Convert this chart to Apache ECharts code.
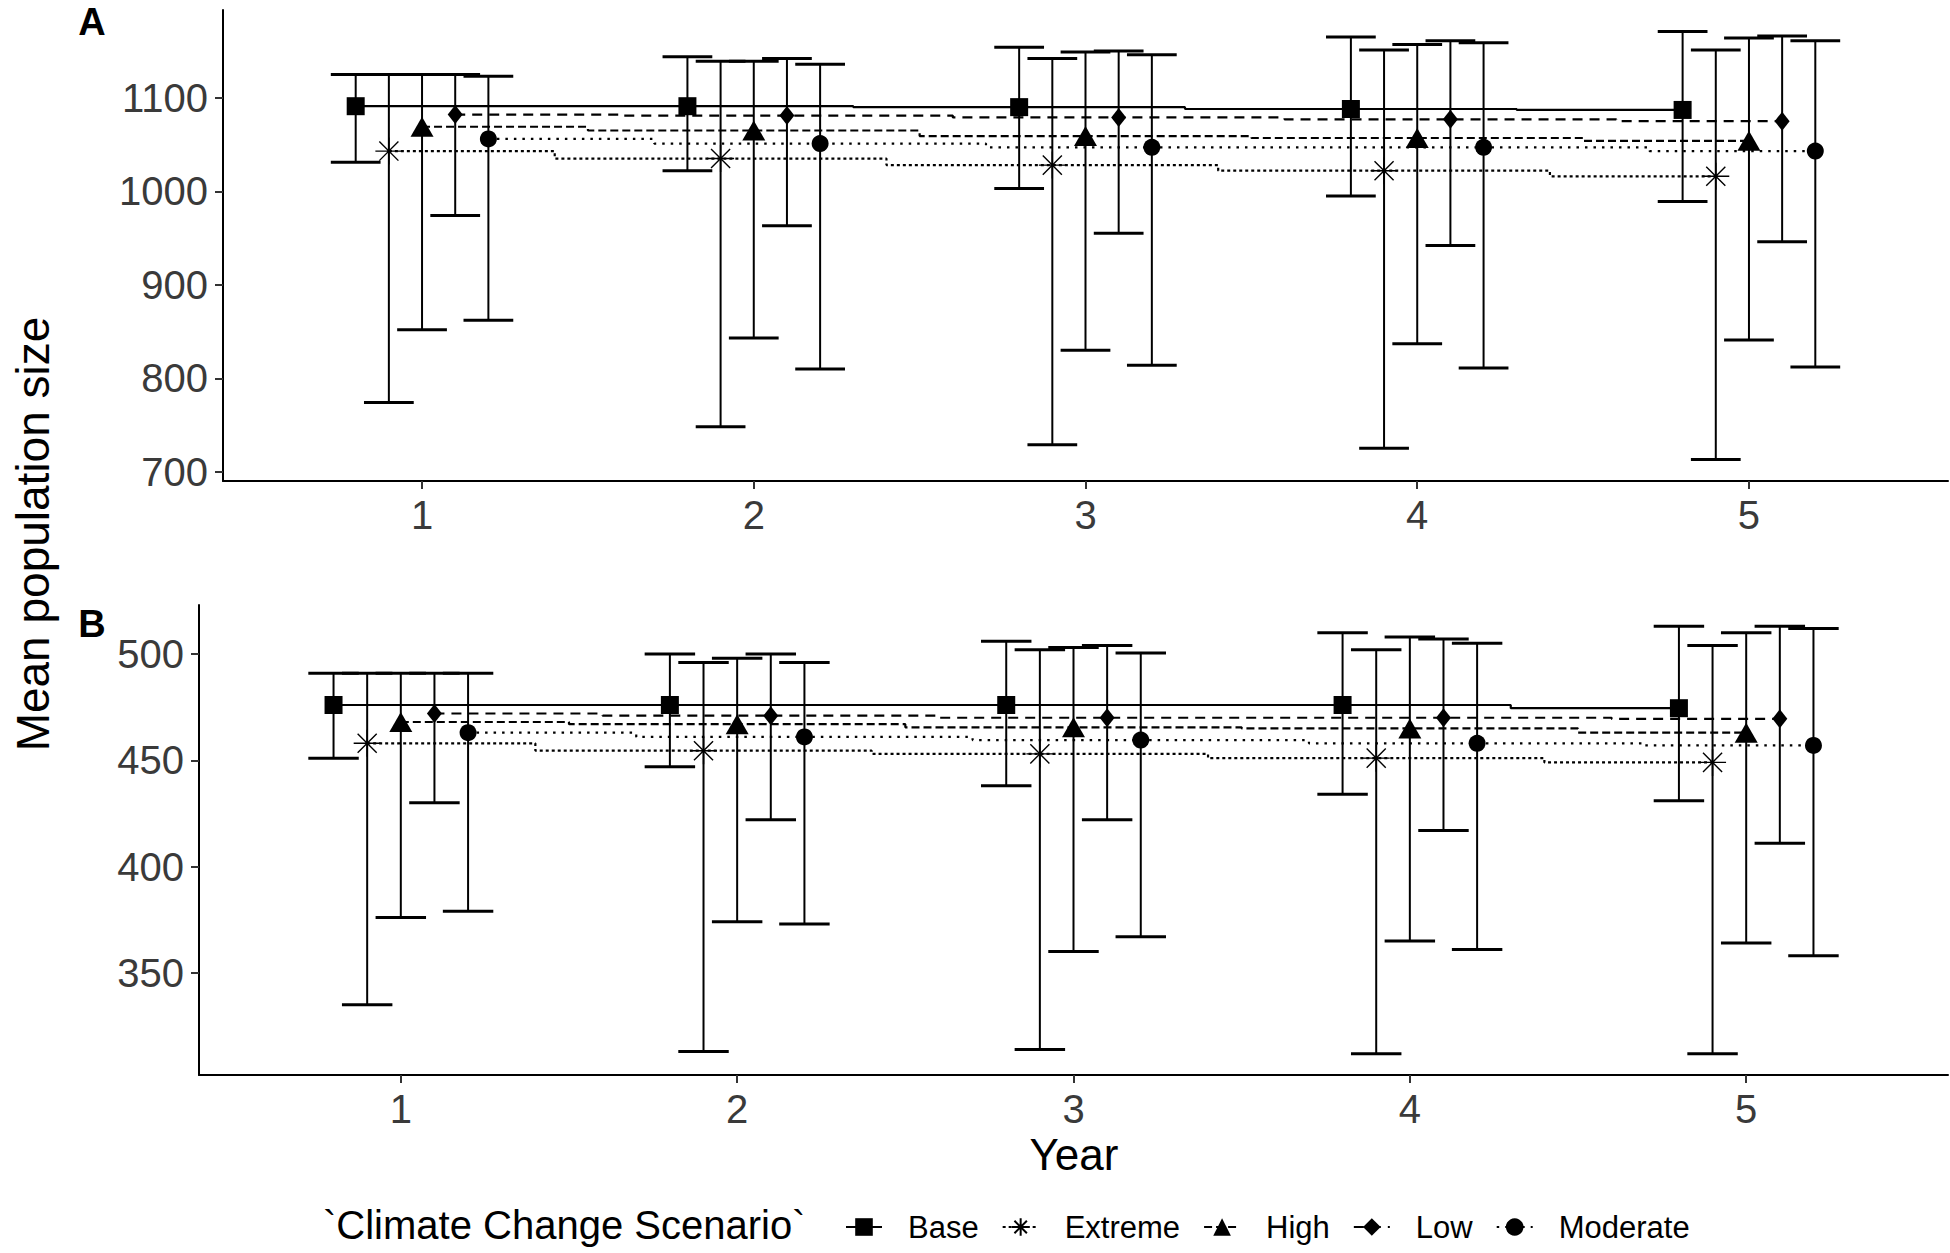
<!DOCTYPE html>
<html>
<head>
<meta charset="utf-8">
<script src="https://cdn.jsdelivr.net/npm/echarts@6/dist/echarts.min.js"></script>
<style>
html,body{margin:0;padding:0;background:#fff;}
#chart{width:1950px;height:1253px;}
</style>
</head>
<body>
<div id="chart"></div>
<script>
// ---------- data ----------
const years = [1, 2, 3, 4, 5];
const scenarios = ['Base', 'Extreme', 'High', 'Low', 'Moderate'];

// Panel A
const A_base_mean = [1091, 1091, 1090, 1088, 1087];
const A_base_lo   = [1031, 1022, 1003, 995, 989];
const A_base_hi   = [1125, 1144, 1154, 1165, 1171];
const A_ext_mean  = [1043, 1035, 1028, 1022, 1016];
const A_ext_lo    = [774, 748, 729, 725, 713];
const A_ext_hi    = [1125, 1139, 1142, 1151, 1151];
const A_high_mean = [1069, 1065, 1059, 1057, 1054];
const A_high_lo   = [852, 843, 830, 837, 841];
const A_high_hi   = [1125, 1139, 1149, 1157, 1164];
const A_low_mean  = [1082, 1081, 1079, 1077, 1075];
const A_low_lo    = [974, 963, 955, 942, 946];
const A_low_hi    = [1125, 1142, 1150, 1161, 1166];
const A_mod_mean  = [1056, 1051, 1047, 1047, 1043];
const A_mod_lo    = [862, 810, 814, 811, 812];
const A_mod_hi    = [1123, 1136, 1146, 1159, 1161];

// Panel B
const B_base_mean = [476, 476, 476, 476, 474.5];
const B_base_lo   = [451, 447, 438, 434, 431];
const B_base_hi   = [491, 500, 506, 510, 513];
const B_ext_mean  = [458, 454.5, 453, 451, 449];
const B_ext_lo    = [335, 313, 314, 312, 312];
const B_ext_hi    = [491, 496, 502, 502, 504];
const B_high_mean = [468, 467, 465.5, 465, 463];
const B_high_lo   = [376, 374, 360, 365, 364];
const B_high_hi   = [491, 498, 503, 508, 510];
const B_low_mean  = [472, 471, 470, 470, 469.5];
const B_low_lo    = [430, 422, 422, 417, 411];
const B_low_hi    = [491, 500, 504, 507, 513];
const B_mod_mean  = [463, 461, 459.5, 458, 457];
const B_mod_lo    = [379, 373, 367, 361, 358];
const B_mod_hi    = [491, 496, 500.5, 505, 512];

const A_ticks = [700, 800, 900, 1000, 1100];
const B_ticks = [350, 400, 450, 500];

// ---------- styling ----------
const FONT = "'Liberation Sans', Arial, Helvetica, sans-serif";
const DODGE = [-0.2, -0.1, 0, 0.1, 0.2];
const CAP = 0.075;
const SYMBOLS = [
  {symbol: 'rect', size: 18},
  {symbol: 'path://M10,0L10,20M0,10L20,10M2.93,2.93L17.07,17.07M2.93,17.07L17.07,2.93', size: 27},
  {symbol: 'triangle', size: [23, 20]},
  {symbol: 'diamond', size: [15, 19]},
  {symbol: 'circle', size: 17}
];
const DASHES = ['solid', [3, 3], [8, 4], [10, 7], [2.5, 6]];

const panels = [
  {means: [A_base_mean, A_ext_mean, A_high_mean, A_low_mean, A_mod_mean],
   los: [A_base_lo, A_ext_lo, A_high_lo, A_low_lo, A_mod_lo],
   his: [A_base_hi, A_ext_hi, A_high_hi, A_low_hi, A_mod_hi], ticks: A_ticks},
  {means: [B_base_mean, B_ext_mean, B_high_mean, B_low_mean, B_mod_mean],
   los: [B_base_lo, B_ext_lo, B_high_lo, B_low_lo, B_mod_lo],
   his: [B_base_hi, B_ext_hi, B_high_hi, B_low_hi, B_mod_hi], ticks: B_ticks}
];

function extent(p) {
  const lo = Math.min(...p.los.flat());
  const hi = Math.max(...p.his.flat());
  const r = hi - lo;
  return [lo - 0.05 * r, hi + 0.05 * r];
}

const lineSeries = [];
const errSeries = [];
panels.forEach((p, g) => {
  scenarios.forEach((name, i) => {
    lineSeries.push({
      type: 'line', name: name, xAxisIndex: g, yAxisIndex: g,
      step: 'middle', z: 4,
      data: years.map((y, k) => [y + DODGE[i], p.means[i][k]]),
      symbol: SYMBOLS[i].symbol, symbolSize: SYMBOLS[i].size,
      showSymbol: true, animation: false,
      lineStyle: {color: '#000', width: 2.2, type: DASHES[i]},
      itemStyle: i === 1 ? {color: '#000', borderColor: '#000', borderWidth: 1.4}
                         : {color: '#000', borderWidth: 0},
      emphasis: {disabled: true}
    });
    errSeries.push({
      type: 'custom', name: 'err_' + name + '_' + g, xAxisIndex: g, yAxisIndex: g, z: 2,
      animation: false, silent: true,
      data: years.map((y, k) => [y + DODGE[i], p.los[i][k], p.his[i][k]]),
      encode: {x: 0, y: [1, 2]},
      renderItem: function (params, api) {
        const x = api.value(0), lo = api.value(1), hi = api.value(2);
        const top = api.coord([x, hi]);
        const bot = api.coord([x, lo]);
        const l = api.coord([x - CAP, hi])[0];
        const r = api.coord([x + CAP, hi])[0];
        return {type: 'group', children: [
          {type: 'line', shape: {x1: top[0], y1: top[1], x2: bot[0], y2: bot[1]}, style: {stroke: '#000', lineWidth: 2}},
          {type: 'line', shape: {x1: l, y1: top[1], x2: r, y2: top[1]}, style: {stroke: '#000', lineWidth: 3}},
          {type: 'line', shape: {x1: l, y1: bot[1], x2: r, y2: bot[1]}, style: {stroke: '#000', lineWidth: 3}}
        ]};
      }
    });
  });
});

const gridDefs = [
  {left: 223, right: 2, top: 10, height: 471},
  {left: 199, right: 2, top: 605, height: 470}
];

const plainFmt = v => String(v);

const xAxes = gridDefs.map((gd, g) => ({
  type: 'value', gridIndex: g, min: 0.4, max: 5.6,
  splitLine: {show: false},
  axisLine: {show: true, lineStyle: {color: '#000', width: 2}},
  axisTick: {show: true, length: 8, lineStyle: {color: '#333', width: 2}, customValues: years},
  axisLabel: {show: true, customValues: years, formatter: plainFmt, fontSize: 40, color: '#3a3a3a', fontFamily: FONT, margin: 14}
}));

const yAxes = panels.map((p, g) => {
  const e = extent(p);
  return {
    type: 'value', gridIndex: g, min: e[0], max: e[1],
    splitLine: {show: false},
    axisLine: {show: true, lineStyle: {color: '#000', width: 2}},
    axisTick: {show: true, length: 8, lineStyle: {color: '#333', width: 2}, customValues: p.ticks},
    axisLabel: {show: true, customValues: p.ticks, formatter: plainFmt, fontSize: 40, color: '#3a3a3a', fontFamily: FONT, margin: 15}
  };
});

const chart = echarts.init(document.getElementById('chart'), null, {renderer: 'svg'});
chart.setOption({
  backgroundColor: '#fff',
  animation: false,
  textStyle: {fontFamily: FONT},
  grid: gridDefs.map(gd => Object.assign({containLabel: false, outerBoundsMode: 'none'}, gd)),
  xAxis: xAxes,
  yAxis: yAxes,
  legend: {
    data: scenarios, left: 840, top: 1205, orient: 'horizontal',
    itemWidth: 36, itemHeight: 22, itemGap: 23, selectedMode: false,
    textStyle: {fontSize: 31, color: '#000', fontFamily: FONT, padding: [0, 0, 0, 21], lineHeight: 34}
  },
  graphic: [
    {type: 'text', x: 92, y: 22, style: {text: 'A', font: 'bold 38px ' + FONT, fill: '#000', align: 'center', verticalAlign: 'middle'}},
    {type: 'text', x: 92, y: 624, style: {text: 'B', font: 'bold 38px ' + FONT, fill: '#000', align: 'center', verticalAlign: 'middle'}},
    {type: 'text', x: 33, y: 534, rotation: Math.PI / 2, style: {text: 'Mean population size', font: '46px ' + FONT, fill: '#000', align: 'center', verticalAlign: 'middle'}},
    {type: 'text', x: 1074, y: 1154, style: {text: 'Year', font: '44px ' + FONT, fill: '#000', align: 'center', verticalAlign: 'middle'}},
    {type: 'text', x: 323, y: 1225, style: {text: '`Climate Change Scenario`', font: '40px ' + FONT, fill: '#000', align: 'left', verticalAlign: 'middle'}}
  ],
  series: lineSeries.concat(errSeries)
});
</script>
</body>
</html>
